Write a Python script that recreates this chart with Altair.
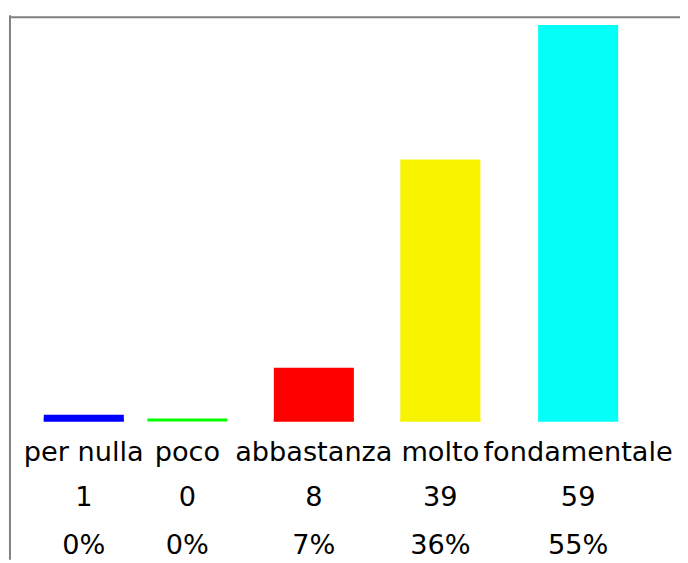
import altair as alt
import pandas as pd

categories = ["per nulla", "poco", "abbastanza", "molto", "fondamentale"]
counts = [1, 0, 8, 39, 59]
percents = [0, 0, 7, 36, 55]
colors = ["#0000FF", "#00FF00", "#FF0000", "#F8F400", "#04FFF8"]

df = pd.DataFrame({
    "cat": categories,
    "idx": list(range(len(categories))),
    "count": counts,
    "pct": [f"{p}%" for p in percents],
    "count_lbl": [str(c) for c in counts],
})

W, H = 678, 549
# column centers (layout, from the table-like arrangement)
col_centers = [70.5, 179.5, 307.5, 435.5, 580.5]

x_enc = alt.X("idx:Q", axis=None,
              scale=alt.Scale(domain=list(range(len(categories))), range=col_centers, nice=False, zero=False))
color_enc = alt.Color("cat:N", legend=None,
                      scale=alt.Scale(domain=categories, range=colors))
y_scale = alt.Scale(domain=[0, max(counts)], range=[409, 8], nice=False)

base = alt.Chart(df)

bars = base.mark_bar(size=81).encode(
    x=x_enc,
    y=alt.Y("count:Q", scale=y_scale, axis=None),
    y2=alt.datum(0),
    color=color_enc,
)

floor = base.mark_tick(orient="horizontal", size=81, thickness=3, yOffset=-1.5, opacity=1).encode(
    x=x_enc,
    y=alt.Y("zero:Q", scale=y_scale, axis=None),
    color=color_enc,
).transform_calculate(zero="0")

def text_row(field, ypix):
    return base.mark_text(font="DejaVu Sans", fontSize=27.5, baseline="alphabetic",
                          align="center", color="black").encode(
        x=x_enc,
        y=alt.value(ypix),
        text=f"{field}:N",
    )

labels = text_row("cat", 449)
nums = text_row("count_lbl", 495)
pcts = text_row("pct", 543)

one = pd.DataFrame({"a": [0]})
top_rule = alt.Chart(one).mark_rule(color="#808080", strokeWidth=2).encode(
    x=alt.value(0), x2=alt.value(W), y=alt.value(0))
left_rule = alt.Chart(one).mark_rule(color="#808080", strokeWidth=2).encode(
    x=alt.value(0), y=alt.value(-2), y2=alt.value(H))

chart = alt.layer(floor, bars, labels, nums, pcts, top_rule, left_rule).properties(
    width=W, height=H,
    padding={"left": 2, "top": 6, "right": 0, "bottom": 0},
    autosize=alt.AutoSizeParams(type="none"),
).configure_view(stroke=None)

chart.save("out.html", embed_options={"renderer": "svg", "actions": False})
